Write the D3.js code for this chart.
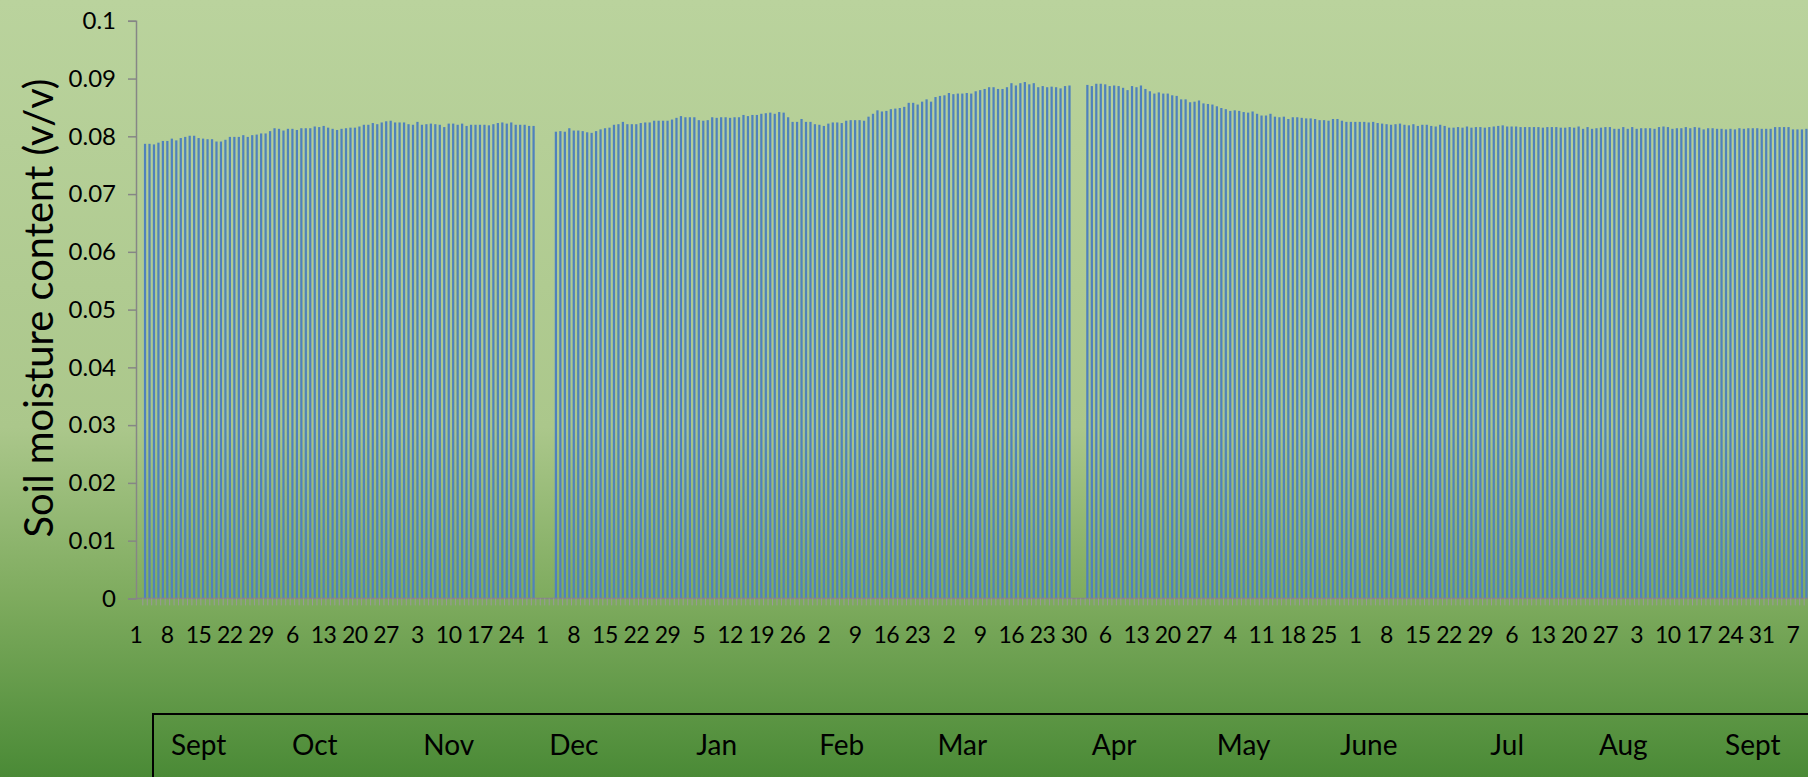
<!DOCTYPE html>
<html>
<head>
<meta charset="utf-8">
<script src="https://cdn.jsdelivr.net/npm/d3@7"></script>
<style>
  html, body { margin: 0; padding: 0; overflow: hidden; }
  svg { display: block; font-family: Lato, "Open Sans", sans-serif; }
</style>
</head>
<body>
<script>
// daily soil moisture (v/v), one array per month, null = no reading
const sep1 = [.0787,.0787,.0786,.0789,.0792,.0792,.0796,.0793,.0797,.0799,.0801,.0801,.0797,.0796,.0795,.0795,.0791,.0791,.0794,.0799,.0799,.0799,.0802,.0799,.0802,.0803,.0805,.0805,.0809,.0814];
const oct = [.0813,.0810,.0813,.0813,.0811,.0814,.0814,.0814,.0817,.0816,.0818,.0815,.0813,.0811,.0813,.0814,.0815,.0815,.0817,.0820,.0820,.0823,.0821,.0824,.0826,.0827,.0824,.0824,.0824,.0821,.0820];
const nov = [.0825,.0820,.0821,.0822,.0821,.0820,.0816,.0822,.0822,.0820,.0822,.0818,.0820,.0820,.0820,.0820,.0819,.0821,.0823,.0824,.0822,.0824,.0820,.0820,.0820,.0818,.0818,null,null,null];
const dec = [null,.0808,.0809,.0808,.0814,.0810,.0810,.0809,.0807,.0806,.0809,.0812,.0814,.0815,.0820,.0821,.0825,.0821,.0821,.0821,.0823,.0824,.0824,.0827,.0827,.0827,.0827,.0829,.0832,.0835,.0833];
const jan = [.0833,.0833,.0828,.0827,.0828,.0833,.0832,.0833,.0833,.0832,.0833,.0833,.0837,.0835,.0837,.0837,.0839,.0840,.0841,.0839,.0842,.0841,.0833,.0825,.0825,.0830,.0825,.0825,.0821,.0820,.0818];
const feb = [.0822,.0824,.0824,.0823,.0827,.0828,.0828,.0828,.0827,.0834,.0839,.0845,.0843,.0844,.0847,.0848,.0849,.0851,.0858,.0858,.0855,.0860,.0864,.0860,.0868,.0870,.0871,.0875];
const mar = [.0873,.0874,.0874,.0875,.0874,.0878,.0880,.0882,.0885,.0885,.0882,.0882,.0885,.0892,.0888,.0892,.0894,.0890,.0892,.0885,.0887,.0885,.0886,.0885,.0883,.0887,.0888,null,null,null,.0889];
const apr = [.0887,.0891,.0891,.0890,.0887,.0888,.0887,.0884,.0880,.0887,.0885,.0888,.0882,.0878,.0874,.0876,.0874,.0874,.0871,.0870,.0864,.0864,.0859,.0860,.0862,.0857,.0856,.0855,.0852,.0849];
const may = [.0847,.0844,.0845,.0844,.0842,.0841,.0843,.0839,.0836,.0836,.0839,.0834,.0833,.0834,.0830,.0833,.0833,.0832,.0831,.0831,.0830,.0828,.0828,.0827,.0830,.0830,.0827,.0825,.0825,.0825,.0825];
const jun = [.0825,.0824,.0825,.0823,.0822,.0821,.0820,.0821,.0822,.0820,.0819,.0821,.0818,.0820,.0820,.0818,.0817,.0820,.0818,.0815,.0815,.0816,.0815,.0817,.0815,.0816,.0816,.0815,.0816,.0817];
const jul = [.0818,.0819,.0817,.0817,.0817,.0816,.0816,.0816,.0816,.0816,.0815,.0816,.0816,.0816,.0815,.0815,.0816,.0815,.0817,.0813,.0816,.0813,.0814,.0815,.0816,.0816,.0813,.0813,.0816,.0813,.0816];
const aug = [.0813,.0814,.0814,.0814,.0813,.0816,.0817,.0816,.0813,.0814,.0814,.0816,.0814,.0816,.0815,.0812,.0814,.0814,.0813,.0813,.0812,.0813,.0812,.0814,.0813,.0814,.0814,.0814,.0813,.0813,.0813];
const sep2 = [.0816,.0816,.0816,.0816,.0812,.0812,.0812,.0813];

const moisture = [].concat(sep1, oct, nov, dec, jan, feb, mar, apr, may, jun, jul, aug, sep2);

// categories: one per day from 1 Sept
const firstDay = new Date(2014, 8, 1);
const days = d3.timeDay.range(firstDay, d3.timeDay.offset(firstDay, moisture.length));

// weekly day-of-month labels under the axis
const dayTicks = ["1","8","15","22","29","6","13","20","27","3","10","17","24","1","8","15","22","29","5","12","19","26","2","9","16","23","2","9","16","23","30","6","13","20","27","4","11","18","25","1","8","15","22","29","6","13","20","27","3","10","17","24","31","7"];

const yTicks = [0, 0.01, 0.02, 0.03, 0.04, 0.05, 0.06, 0.07, 0.08, 0.09, 0.1];

// month names in the box below, each set under a day of that stretch
const monthNames = ["Sept","Oct","Nov","Dec","Jan","Feb","Mar","Apr","May","June","Jul","Aug","Sept"];
const monthAnchors = ["2014-09-13","2014-10-09","2014-11-08","2014-12-06","2015-01-07","2015-02-04","2015-03-03","2015-04-06","2015-05-05","2015-06-02","2015-07-03","2015-07-29","2015-08-27"];

const W = 1808, H = 777;
const axisX = 136, baseY = 598.4, topY = 20.8;
const step = 4.466;
const labelShift = -9;

const svg = d3.select("body").append("svg")
  .attr("width", W)
  .attr("height", H);

const grad = svg.append("defs").append("linearGradient")
  .attr("id", "bg").attr("x1", 0).attr("y1", 0).attr("x2", 0).attr("y2", 1);
grad.append("stop").attr("offset", 0).attr("stop-color", "#bad39d");
grad.append("stop").attr("offset", 0.55).attr("stop-color", "#abc78b");
grad.append("stop").attr("offset", 0.77).attr("stop-color", "#7eab5e");
grad.append("stop").attr("offset", 1).attr("stop-color", "#4a8a36");
svg.append("rect").attr("width", W).attr("height", H).attr("fill", "url(#bg)");

const x = d3.scaleBand()
  .domain(d3.range(moisture.length))
  .range([axisX + 6.8, axisX + 6.8 + moisture.length * step])
  .paddingInner(0.5)
  .paddingOuter(0.25);

const y = d3.scaleLinear().domain([0, 0.1]).range([baseY, topY]);

// bars
svg.append("g").selectAll("rect")
  .data(moisture.map((v, i) => ({i, v})).filter(d => d.v !== null))
  .enter().append("rect")
  .attr("x", d => x(d.i))
  .attr("y", d => y(d.v))
  .attr("width", x.bandwidth())
  .attr("height", d => baseY - y(d.v))
  .attr("fill", "#4f81bd");

// y axis
const yAxis = svg.append("g")
  .attr("transform", "translate(" + axisX + ",0)")
  .call(d3.axisLeft(y).tickValues(yTicks).tickFormat(d3.format("~g")).tickSize(8).tickPadding(12));
yAxis.select(".domain").attr("stroke", "#868686").attr("stroke-width", 1.5);
yAxis.selectAll(".tick line").attr("stroke", "#868686").attr("stroke-width", 1.5);
yAxis.selectAll(".tick text").attr("font-size", 24).attr("fill", "#000").attr("font-family", "Lato");

// x axis with a tick mark at every day
const xAxis = svg.append("g")
  .attr("transform", "translate(0," + baseY + ")")
  .call(d3.axisBottom(x).tickSize(7).tickFormat("").tickSizeOuter(0));
xAxis.select(".domain").attr("stroke", "#868686").attr("stroke-width", 1.5)
  .attr("d", "M" + axisX + ",0H" + W);
xAxis.selectAll(".tick line").attr("stroke", "#9a9a9a").attr("stroke-width", 1)
  .attr("transform", "translate(" + (-step / 2) + ",0)");

// weekly labels
svg.append("g").selectAll("text")
  .data(dayTicks)
  .enter().append("text")
  .attr("x", (d, k) => x(k * 7) + x.bandwidth() / 2 + labelShift)
  .attr("y", 643)
  .attr("text-anchor", "middle")
  .attr("font-size", 23)
  .attr("letter-spacing", -0.5)
  .attr("fill", "#000")
  .text(d => d);

// y title
const title = svg.append("text")
  .attr("transform", "translate(37,308) rotate(-90)")
  .attr("text-anchor", "middle")
  .attr("dominant-baseline", "central")
  .attr("font-size", 34)
  .attr("fill", "#000")
  .text("Soil moisture content (v/v)");
const tl = title.node().getComputedTextLength();
title.attr("font-size", 34 * 459 / tl);

// month box
svg.append("rect")
  .attr("x", 153).attr("y", 714)
  .attr("width", W).attr("height", 200)
  .attr("fill", "none").attr("stroke", "#000").attr("stroke-width", 2);

const parse = d3.timeParse("%Y-%m-%d");
svg.append("g").selectAll("text")
  .data(monthNames)
  .enter().append("text")
  .attr("x", (d, k) => x(d3.timeDay.count(firstDay, parse(monthAnchors[k]))) + x.bandwidth() / 2)
  .attr("y", 755)
  .attr("text-anchor", "middle")
  .attr("font-size", 28)
  .attr("fill", "#000")
  .text(d => d);
</script>
</body>
</html>
